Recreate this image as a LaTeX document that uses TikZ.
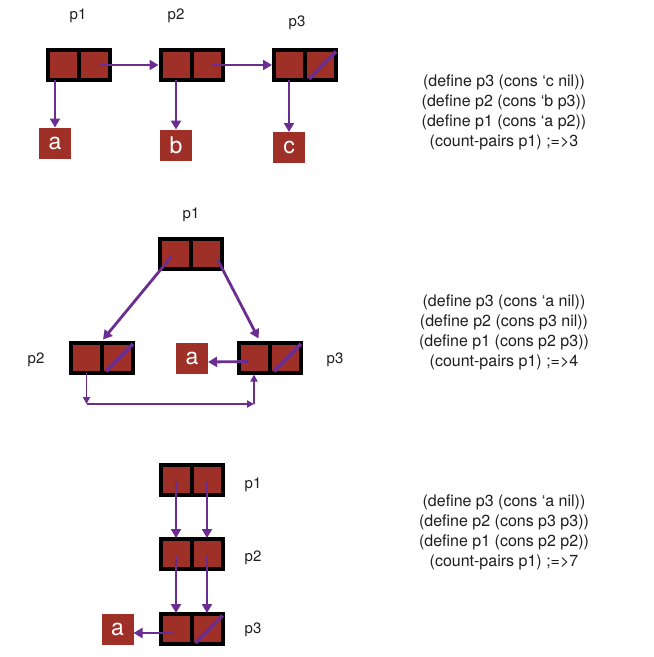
\documentclass[tikz,border=0pt]{standalone}
\usepackage{fontspec}
\setmainfont{TeX Gyre Heros}
\usetikzlibrary{arrows.meta,calc}
\definecolor{cellred}{RGB}{158,48,40}
\definecolor{arrpurple}{RGB}{107,45,145}
\definecolor{txtgray}{RGB}{30,30,30}
\tikzset{
 cellbox/.style={draw=black,line width=4pt,fill=cellred,minimum width=31pt,minimum height=30pt,inner sep=0pt,outer sep=0pt},
 pairframe/.style={minimum width=62pt,minimum height=30pt,inner sep=0pt,outer sep=0pt},
 atom/.style={fill=cellred,minimum width=32pt,minimum height=31pt,inner sep=0pt,outer sep=0pt,text=white,font=\fontsize{23}{23}\selectfont},
 lbl/.style={font=\fontsize{15}{15}\selectfont,text=txtgray},
 code/.style={align=center,font=\fontsize{16}{20}\selectfont,text=txtgray},
 arr/.style={draw=arrpurple,line width=2.8pt,-{Triangle[length=9pt,width=10pt]}},
 thinarr/.style={draw=arrpurple,line width=1.8pt,-{Triangle[length=7pt,width=7pt]}},
 slashline/.style={draw=arrpurple,line width=3.6pt},
}
\newcommand\conspair[3]{%
 \node[pairframe] (#1) at (#2,#3) {};
 \node[cellbox] (#1l) at ({#2-15.5},#3) {};
 \node[cellbox] (#1r) at ({#2+15.5},#3) {};
}
\newcommand\nilslash[1]{%
 \draw[slashline] ([xshift=4pt,yshift=1pt]#1r.south west) -- ([xshift=0pt,yshift=-1.5pt]#1r.north east);
}
\begin{document}
\begin{tikzpicture}[x=1pt,y=-1pt]
\useasboundingbox (0,0) rectangle (654,657);
\fill[white] (0,0) rectangle (654,657);

% ---------- Section 1 ----------
\conspair{A}{78.5}{65}
\conspair{B}{191.5}{65}
\conspair{C}{305}{65}
\nilslash{C}
\node[atom] (a1) at (55,143) {a};
\node[atom] (b1) at (176,145) {b};
\node[atom] (c1) at (289,147.5) {c};
\node[lbl] (lp1) at (78,16) {p1};
\node[lbl] (lp2) at (176,16) {p2};
\node[lbl] (lp3) at (297,23) {p3};
\draw[arr] (a1.north |- A.south) -- (a1.north);
\draw[arr] (b1.north |- B.south) -- (b1.north);
\draw[arr] (c1.north |- C.south) -- (c1.north);
\draw[arr] ([xshift=5pt]Ar.center) -- ([xshift=-2pt]Bl.west);
\draw[arr] ([xshift=5pt]Br.center) -- ([xshift=-2pt]Cl.west);
\node[code] (t1) at (504,112) {(define p3 (cons ‘c nil))\\(define p2 (cons ‘b p3))\\(define p1 (cons ‘a p2))\\(count-pairs p1) ;=>3};

% ---------- Section 2 ----------
\conspair{Q}{191}{253.5}
\conspair{P}{102}{357.5}
\conspair{R}{270}{357.5}
\nilslash{P}
\nilslash{R}
\node[atom] (a2) at (192,358) {a};
\node[lbl] (lq1) at (191,215) {p1};
\node[lbl] (lq2) at (36,360) {p2};
\node[lbl] (lq3) at (335,360) {p3};
\draw[arr] ([xshift=-4pt,yshift=-3pt]Ql.center) -- ([xshift=1pt,yshift=3pt]P.north);
\draw[arr] ([xshift=11pt,yshift=-6pt]Qr.center) -- ([xshift=4pt,yshift=4pt]Rl.north);
\draw[arr] ([xshift=-6pt,yshift=-4pt]Rl.center) -- ([yshift=-4pt]a2.east);
\coordinate (k1) at (86.5,404);
\coordinate (k2) at (254,404);
\draw[thinarr] (Pl.south) -- (k1);
\draw[thinarr] (k1) -- (k2);
\draw[thinarr] (k2) -- ([yshift=-2pt]Rl.south -| k2);
\node[code] (t2) at (504,332) {(define p3 (cons ‘a nil))\\(define p2 (cons p3 nil))\\(define p1 (cons p2 p3))\\(count-pairs p1) ;=>4};

% ---------- Section 3 ----------
\conspair{S}{191.5}{479.5}
\conspair{T}{191.5}{554}
\conspair{U}{191.5}{629}
\nilslash{U}
\node[atom] (a3) at (117.5,629) {a};
\node[lbl] (ls1) at (253,485) {p1};
\node[lbl] (ls2) at (253,558) {p2};
\node[lbl] (ls3) at (253,630) {p3};
\draw[arr] ([yshift=-2.5pt]Sl.center) -- ([yshift=1pt]Tl.north);
\draw[arr] ([yshift=-2.5pt]Sr.center) -- ([yshift=1pt]Tr.north);
\draw[arr] ([yshift=-2pt]Tl.center) -- ([yshift=1pt]Ul.north);
\draw[arr] ([yshift=-2pt]Tr.center) -- ([yshift=1pt]Ur.north);
\draw[arr] ([xshift=-3pt,yshift=-4pt]Ul.center) -- ([yshift=-4pt]a3.east);
\node[code] (t3) at (504,532) {(define p3 (cons ‘a nil))\\(define p2 (cons p3 p3))\\(define p1 (cons p2 p2))\\(count-pairs p1) ;=>7};
\end{tikzpicture}
\end{document}
